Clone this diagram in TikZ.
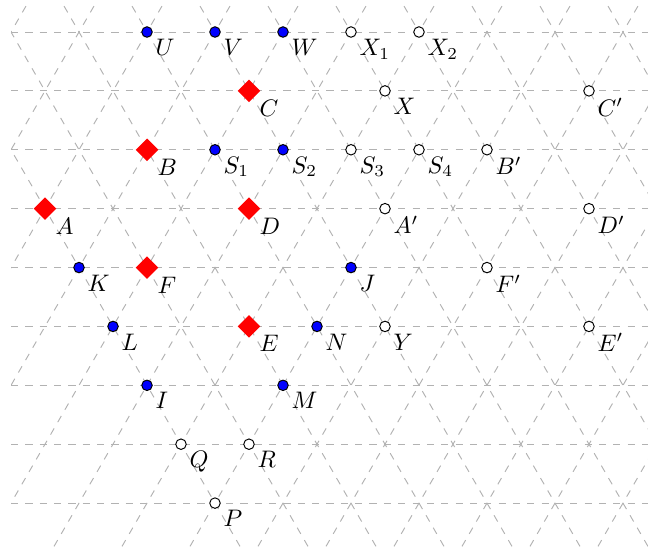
\documentclass[tikz,border=0pt]{standalone}
\usetikzlibrary{shapes.geometric}
\begin{document}
\begin{tikzpicture}[x=1cm,y=1cm,
  gridline/.style={gray!60, dashed, line width=0.4pt},
  every label/.style={xshift=-1.6pt, yshift=2.2pt},
  bdot/.style={circle, fill=blue, draw=black, line width=0.4pt, inner sep=0pt, minimum size=4.4pt},
  wdot/.style={circle, fill=white, draw=black, line width=0.4pt, inner sep=0pt, minimum size=4.4pt},
  rdia/.style={diamond, fill=red, inner sep=0pt, minimum size=9.6pt}]
\def\h{0.8660254}
\useasboundingbox (-3.162,-7.662) rectangle (6.368,0.4706);
\begin{scope}
\clip (-3,-7.62) rectangle (6.5,0.4);
\foreach \k in {0,...,8} {
  \draw[gridline] (-3,-\k*\h) -- (7,-\k*\h);
}
\foreach \m in {-4,...,14} {
  \draw[gridline] (\m-5,-10*\h) -- (\m+0.5,\h);
  \draw[gridline] (\m+5,-10*\h) -- (\m-0.5,\h);
}
\end{scope}
% blue points
\node[bdot, label={-45:$U$}] (U) at (-1,0) {};
\node[bdot, label={-45:$V$}] (V) at (0,0) {};
\node[bdot, label={-45:$W$}] (W) at (1,0) {};
\node[bdot, label={-45:$S_1$}] (S1) at (0,-2*\h) {};
\node[bdot, label={-45:$S_2$}] (S2) at (1,-2*\h) {};
\node[bdot, label={-45:$K$}] (K) at (-2,-4*\h) {};
\node[bdot, label={-45:$J$}] (J) at (2,-4*\h) {};
\node[bdot, label={-45:$L$}] (L) at (-1.5,-5*\h) {};
\node[bdot, label={-45:$N$}] (N) at (1.5,-5*\h) {};
\node[bdot, label={-45:$I$}] (I) at (-1,-6*\h) {};
\node[bdot, label={-45:$M$}] (M) at (1,-6*\h) {};
% red diamonds
\node[rdia, label={-45:$C$}] (C) at (0.5,-1*\h) {};
\node[rdia, label={-45:$B$}] (B) at (-1,-2*\h) {};
\node[rdia, label={-45:$A$}] (A) at (-2.5,-3*\h) {};
\node[rdia, label={-45:$D$}] (D) at (0.5,-3*\h) {};
\node[rdia, label={-45:$F$}] (F) at (-1,-4*\h) {};
\node[rdia, label={-45:$E$}] (E) at (0.5,-5*\h) {};
% hollow points
\node[wdot, label={-45:$X_1$}] (X1) at (2,0) {};
\node[wdot, label={-45:$X_2$}] (X2) at (3,0) {};
\node[wdot, label={-45:$X$}] (X) at (2.5,-1*\h) {};
\node[wdot, label={-45:$C'$}] (Cp) at (5.5,-1*\h) {};
\node[wdot, label={-45:$S_3$}] (S3) at (2,-2*\h) {};
\node[wdot, label={-45:$S_4$}] (S4) at (3,-2*\h) {};
\node[wdot, label={-45:$B'$}] (Bp) at (4,-2*\h) {};
\node[wdot, label={-45:$A'$}] (Ap) at (2.5,-3*\h) {};
\node[wdot, label={-45:$D'$}] (Dp) at (5.5,-3*\h) {};
\node[wdot, label={-45:$F'$}] (Fp) at (4,-4*\h) {};
\node[wdot, label={-45:$Y$}] (Y) at (2.5,-5*\h) {};
\node[wdot, label={-45:$E'$}] (Ep) at (5.5,-5*\h) {};
\node[wdot, label={-45:$Q$}] (Q) at (-0.5,-7*\h) {};
\node[wdot, label={-45:$R$}] (R) at (0.5,-7*\h) {};
\node[wdot, label={-45:$P$}] (P) at (0,-8*\h) {};
\end{tikzpicture}
\end{document}
